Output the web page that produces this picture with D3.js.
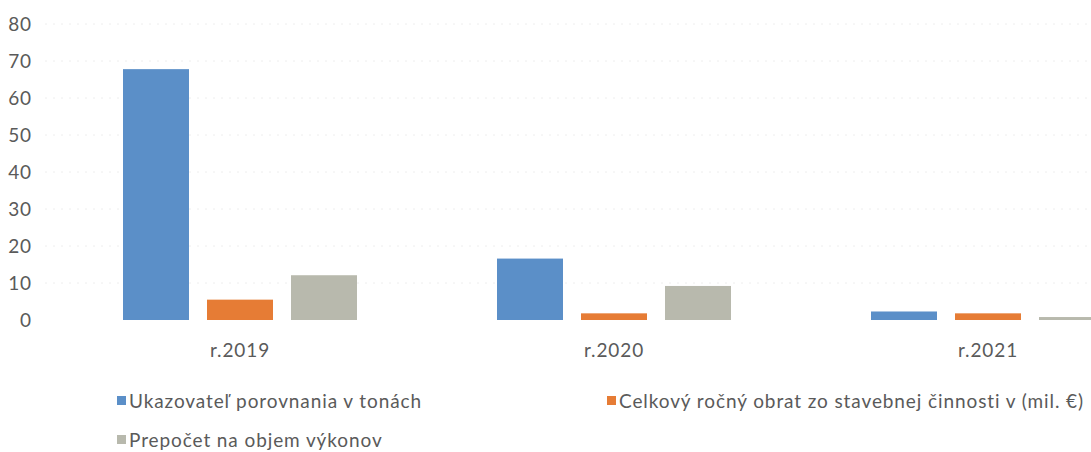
<!DOCTYPE html>
<html><head><meta charset="utf-8">
<script src="https://cdn.jsdelivr.net/npm/d3@7/dist/d3.min.js"></script>
<style>body{margin:0;background:#fff}svg{display:block}text{font-family:Lato,"Open Sans",sans-serif;fill:#5a5a5a}</style>
</head><body><svg id="c" width="1091" height="452"></svg>
<script>
const categories = ["r.2019", "r.2020", "r.2021"];
const seriesNames = ["Ukazovateľ porovnania v tonách", "Celkový ročný obrat zo stavebnej činnosti v (mil. €)", "Prepočet na objem výkonov"];
const ukazovatel = [67.8, 16.6, 2.3];
const obrat = [5.5, 1.8, 1.8];
const prepocet = [12.1, 9.2, 0.8];
const yTicks = [0, 10, 20, 30, 40, 50, 60, 70, 80];
const colors = ["#5b8fc8", "#e67c35", "#b8b9ad"];

const series = [ukazovatel, obrat, prepocet];
const svg = d3.select("#c");
const y = d3.scaleLinear().domain([0, 80]).range([320, 24]);
const x = d3.scaleBand().domain(categories).range([53, 1175]).paddingInner(0).paddingOuter(0);
const xs = d3.scaleBand().domain(d3.range(3)).range([70, 304]).paddingInner(18 / 84).paddingOuter(0);

// gridlines
svg.append("g").selectAll("line").data(yTicks.filter(d => d > 0)).join("line")
  .attr("x1", 45).attr("x2", 1091).attr("y1", d => y(d)).attr("y2", d => y(d))
  .attr("stroke", "#eeeeee").attr("stroke-dasharray", "2,6");

const fontStyle = sel => sel.style("font-size", "19px").style("font-family", "Lato").style("letter-spacing", "0.9px").attr("fill", "#5a5a5a");

const yAxis = d3.axisLeft(y).tickValues(yTicks).tickSize(0).tickPadding(0);
const ga = svg.append("g").attr("transform", "translate(32,0)").call(yAxis);
ga.select(".domain").remove();
ga.selectAll("text").call(fontStyle);

const groups = svg.append("g").selectAll("g").data(categories).join("g")
  .attr("transform", d => `translate(${x(d)},0)`);
groups.selectAll("rect").data((d, i) => series.map((s, k) => ({k, v: s[i]}))).join("rect")
  .attr("x", d => xs(d.k)).attr("width", xs.bandwidth())
  .attr("y", d => y(d.v)).attr("height", d => y(0) - y(d.v))
  .attr("fill", d => colors[d.k]);

const xAxis = d3.axisBottom(x).tickSize(0).tickPadding(0);
const gx = svg.append("g").attr("transform", "translate(0,350)").call(xAxis);
gx.select(".domain").remove();
gx.selectAll("text").call(fontStyle).attr("dy", "0.35em").attr("y", 0);

// legend
const legendPos = [[117, 401], [607, 401], [117, 440]];
const lg = svg.append("g").selectAll("g").data(seriesNames).join("g")
  .attr("transform", (d, i) => `translate(${legendPos[i][0]},${legendPos[i][1]})`);
lg.append("rect").attr("x", 0).attr("y", -5).attr("width", 9).attr("height", 9).attr("fill", (d, i) => colors[i]);
lg.append("text").attr("x", 12).attr("y", 0).attr("dy", "0.35em").call(fontStyle).text(d => d);
</script></body></html>
